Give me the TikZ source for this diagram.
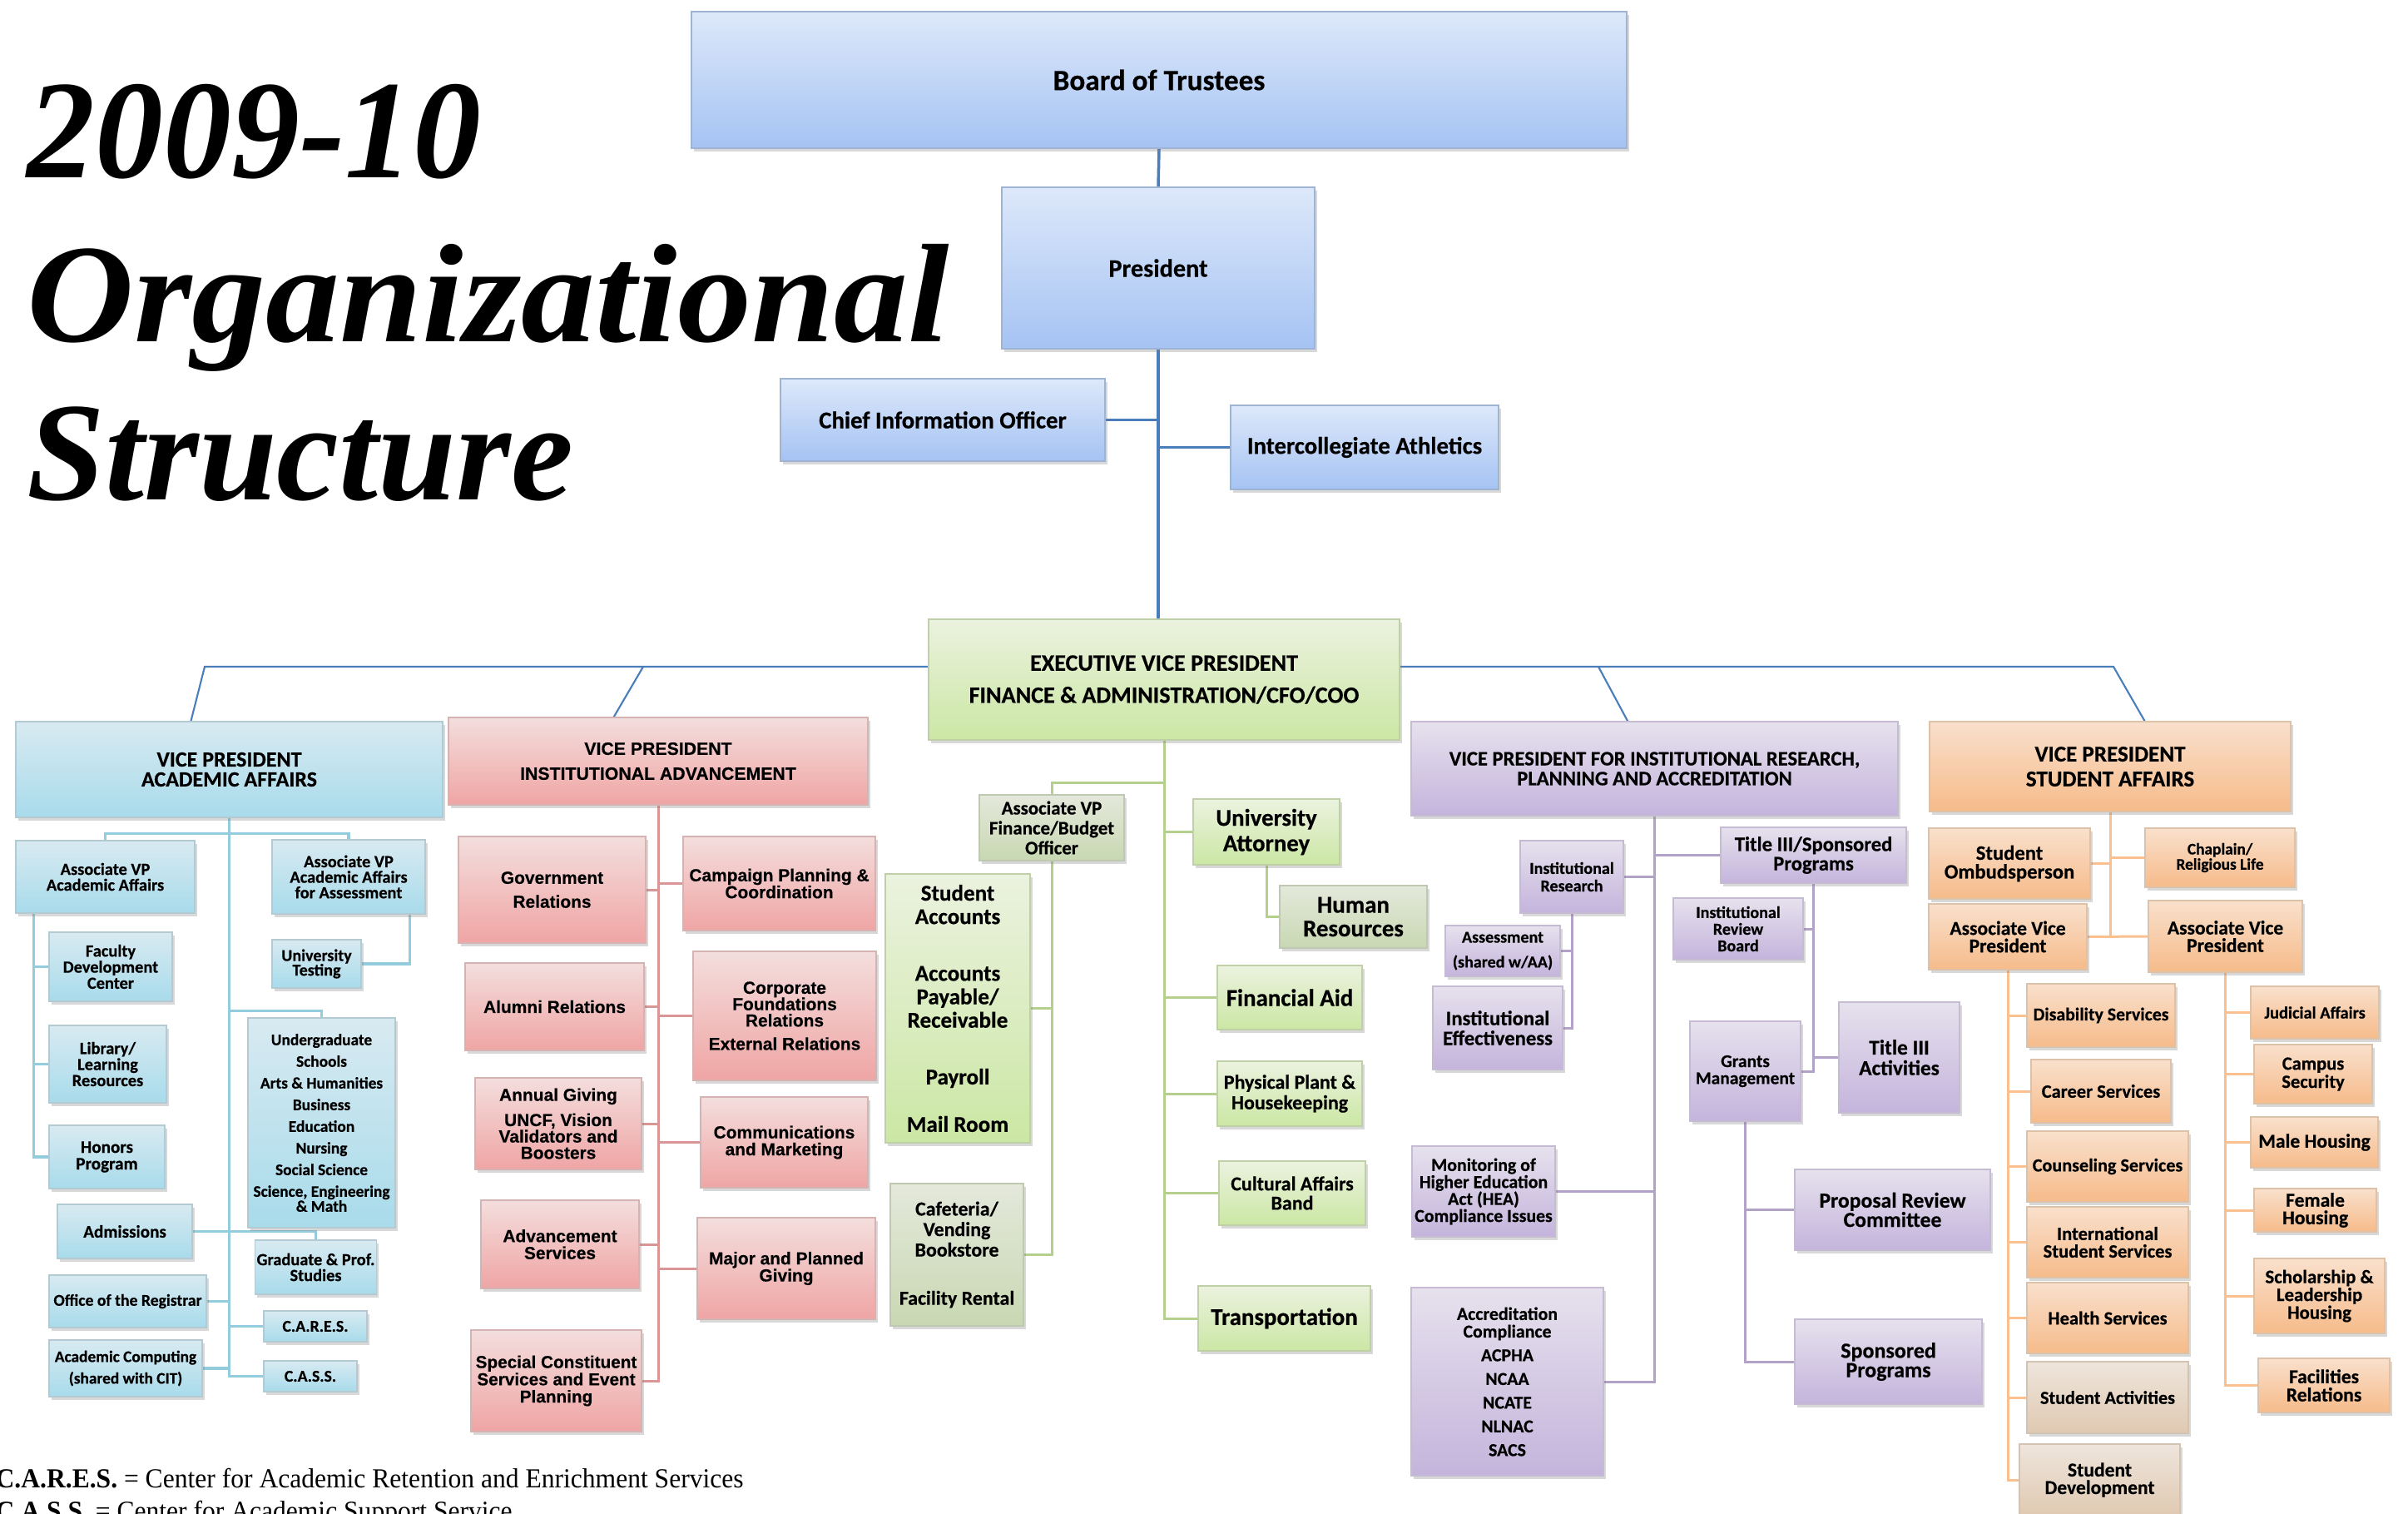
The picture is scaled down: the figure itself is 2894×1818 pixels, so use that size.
\documentclass[tikz,border=0pt]{standalone}
\usepackage{fontspec}
\setmainfont{Liberation Serif}
\newfontfamily\cb{Carlito}[BoldFeatures={FakeBold=0.5}]
\newfontfamily\ab{Liberation Sans}[BoldFeatures={FakeBold=0.4}]
\usetikzlibrary{shadows}
\pgfdeclarelayer{bg}
\pgfsetlayers{bg,main}
\definecolor{blT}{HTML}{DDE8FA}\definecolor{blB}{HTML}{A5C3F3}\definecolor{blD}{HTML}{9FB3D3}
\definecolor{cyT}{HTML}{D8EAF1}\definecolor{cyB}{HTML}{A8DBEB}\definecolor{cyD}{HTML}{B3CAD3}
\definecolor{pkT}{HTML}{F3DEDD}\definecolor{pkB}{HTML}{EFA5A4}\definecolor{pkD}{HTML}{D4B3B2}
\definecolor{grT}{HTML}{EBF2DF}\definecolor{grB}{HTML}{CBE7A4}\definecolor{grD}{HTML}{BFD0A6}
\definecolor{ggT}{HTML}{E4E8DB}\definecolor{ggB}{HTML}{C8D8B2}\definecolor{ggD}{HTML}{BFC8B0}
\definecolor{puT}{HTML}{E6E1ED}\definecolor{puB}{HTML}{C4B4DC}\definecolor{puD}{HTML}{C5BBD3}
\definecolor{orT}{HTML}{F9E0CC}\definecolor{orB}{HTML}{F6BB8A}\definecolor{orD}{HTML}{DDC2AA}
\definecolor{beT}{HTML}{EEE5DC}\definecolor{beB}{HTML}{E0C9B1}\definecolor{beD}{HTML}{D3C3B3}
\definecolor{blL}{HTML}{4A7EBB}\definecolor{acL}{HTML}{93CDDD}\definecolor{pkL}{HTML}{D99694}
\definecolor{grL}{HTML}{B4D08C}\definecolor{puL}{HTML}{B3A2C7}\definecolor{orL}{HTML}{FAC08F}
\newcommand\cf[2]{\cb\bfseries\fontsize{#1}{#2}\selectfont}
\newcommand\af[2]{\ab\bfseries\fontsize{#1}{#2}\selectfont}
\newcommand\obox[7]{\node[#6, minimum width={(#4-#2)*0.01cm}, minimum height={(#5-#3)*0.01cm}] (#1) at ({(#2+#4)/2},{(#3+#5)/2}) {#7};}
\tikzset{
 base/.style={rectangle, inner sep=0.6pt, align=center, line width=0.35pt, text=black,
   drop shadow={opacity=0.3, shadow xshift=0.025cm, shadow yshift=-0.035cm}},
 blu/.style={base, top color=blT, bottom color=blB, draw=blD},
 cyn/.style={base, top color=cyT, bottom color=cyB, draw=cyD},
 pnk/.style={base, top color=pkT, bottom color=pkB, draw=pkD},
 grn/.style={base, top color=grT, bottom color=grB, draw=grD},
 ggr/.style={base, top color=ggT, bottom color=ggB, draw=ggD},
 pur/.style={base, top color=puT, bottom color=puB, draw=puD},
 org/.style={base, top color=orT, bottom color=orB, draw=orD},
 bge/.style={base, top color=beT, bottom color=beB, draw=beD},
 cnB/.style={draw=blL, line width=1pt},
 cnb/.style={draw=blL, line width=0.6pt},
 cnA/.style={draw=acL, line width=1pt},
 cnP/.style={draw=pkL, line width=0.85pt},
 cnG/.style={draw=grL, line width=0.85pt},
 cnU/.style={draw=puL, line width=0.85pt},
 cnO/.style={draw=orL, line width=0.85pt},
 ttl/.style={anchor=base west, inner sep=0pt, font=\bfseries\itshape\fontsize{48}{48}\selectfont},
 foot/.style={anchor=base west, inner sep=0pt, font=\fontsize{9.4}{10}\selectfont}
}
\begin{document}
\begin{tikzpicture}[x={(0.01cm,0)}, y={(0,-0.01cm)}]
\useasboundingbox (0,0) rectangle (2894,1818);
% ---------- title ----------
\node[ttl] (t1) at (32,213) {\scalebox{0.97}[1]{2009-10}};
\node[ttl] (t2) at (32,410) {\scalebox{1.055}[1]{Organizational}};
\node[ttl] (t3) at (32,600) {Structure};
% ---------- top ----------
\obox{board}{831}{14}{1955}{178}{blu,font=\cf{10}{10}}{Board of Trustees}
\obox{pres}{1204}{225}{1580}{419}{blu,font=\cf{8.6}{9}}{President}
\obox{cio}{938}{455}{1328}{554}{blu,font=\cf{8.2}{8.2}}{Chief Information Officer}
\obox{ath}{1479}{487}{1801}{588}{blu,font=\cf{8.2}{8.2}}{Intercollegiate Athletics}
\obox{evp}{1116}{744}{1682}{889}{grn,font=\cf{8}{11}}{EXECUTIVE VICE PRESIDENT\\FINANCE \& ADMINISTRATION/CFO/COO}
% ---------- academic affairs ----------
\obox{vpa}{19}{867}{532}{982}{cyn,font=\cf{7.4}{6.8}}{VICE PRESIDENT\\ACADEMIC AFFAIRS}
\obox{avpa}{19}{1010}{234}{1097}{cyn,font=\cf{5.8}{5.4}}{Associate VP\\Academic Affairs}
\obox{avpas}{327}{1009}{511}{1098}{cyn,font=\cf{5.8}{5.3}}{Associate VP\\Academic Affairs\\for Assessment}
\obox{fdc}{59}{1120}{207}{1203}{cyn,font=\cf{5.8}{5.5}}{Faculty\\Development\\Center}
\obox{lib}{59}{1232}{200}{1325}{cyn,font=\cf{5.8}{5.5}}{Library/\\Learning\\Resources}
\obox{hon}{59}{1352}{198}{1428}{cyn,font=\cf{6}{5.7}}{Honors\\Program}
\obox{ut}{327}{1129}{434}{1187}{cyn,font=\cf{5.7}{5}}{University\\Testing}
\obox{ug}{298}{1223}{475}{1475}{cyn,font=\cf{5.5}{5.1}}{Undergraduate\\[2.3pt]Schools\\[2.3pt]Arts \& Humanities\\[2.3pt]Business\\[2.3pt]Education\\[2.3pt]Nursing\\[2.3pt]Social Science\\[2.3pt]Science, Engineering\\\& Math}
\obox{adm}{69}{1447}{231}{1512}{cyn,font=\cf{6}{6}}{Admissions}
\obox{grad}{308}{1490}{451}{1555}{cyn,font=\cf{5.8}{5.4}}{Graduate \& Prof.\\Studies}
\obox{reg}{59}{1532}{248}{1595}{cyn,font=\cf{5.6}{5.6}}{Office of the Registrar}
\obox{acomp}{59}{1610}{243}{1678}{cyn,font=\cf{5.5}{7.4}}{Academic Computing\\(shared with CIT)}
\obox{cares}{317}{1575}{441}{1612}{cyn,font=\cf{5.6}{5.6}}{C.A.R.E.S.}
\obox{cass}{317}{1635}{429}{1672}{cyn,font=\cf{5.6}{5.6}}{C.A.S.S.}
% ---------- institutional advancement ----------
\obox{vpadv}{539}{862}{1043}{967}{pnk,font=\af{6.05}{8.5}}{VICE PRESIDENT\\INSTITUTIONAL ADVANCEMENT}
\obox{gov}{551}{1005}{776}{1133}{pnk,font=\af{5.95}{8.2}}{Government\\Relations}
\obox{camp}{821}{1005}{1052}{1118}{pnk,font=\af{5.95}{5.8}}{Campaign Planning \&\\Coordination}
\obox{alum}{559}{1157}{774}{1262}{pnk,font=\af{5.95}{6}}{Alumni Relations}
\obox{corp}{833}{1143}{1053}{1298}{pnk,font=\af{5.95}{5.6}}{Corporate\\Foundations\\Relations\\[2.4pt]External Relations}
\obox{ann}{571}{1295}{771}{1405}{pnk,font=\af{5.95}{5.6}}{Annual Giving\\[3pt]UNCF, Vision\\Validators and\\Boosters}
\obox{comm}{842}{1318}{1043}{1427}{pnk,font=\af{5.95}{5.8}}{Communications\\and Marketing}
\obox{advs}{578}{1442}{768}{1548}{pnk,font=\af{5.95}{5.8}}{Advancement\\Services}
\obox{major}{838}{1463}{1052}{1585}{pnk,font=\af{5.95}{5.8}}{Major and Planned\\Giving}
\obox{spec}{566}{1598}{771}{1720}{pnk,font=\af{5.9}{5.9}}{Special Constituent\\Services and Event\\Planning}
% ---------- finance ----------
\obox{avpf}{1177}{955}{1351}{1034}{ggr,font=\cf{6.5}{6.8}}{Associate VP\\Finance/Budget\\Officer}
\obox{sacc}{1064}{1050}{1238}{1373}{grn,font=\cf{7.7}{8}}{Student\\Accounts\\[11.4pt]Accounts\\Payable/\\Receivable\\[11.4pt]Payroll\\[8.2pt]Mail Room}
\obox{caf}{1070}{1422}{1230}{1593}{ggr,font=\cf{6.8}{7}}{Cafeteria/\\Vending\\Bookstore\\[9.5pt]Facility Rental}
\obox{ua}{1434}{960}{1610}{1039}{grn,font=\cf{8.2}{8.7}}{University\\Attorney}
\obox{hr}{1538}{1064}{1715}{1139}{ggr,font=\cf{8.2}{8.1}}{Human\\Resources}
\obox{faid}{1463}{1160}{1637}{1237}{grn,font=\cf{8.2}{8.2}}{Financial Aid}
\obox{phys}{1463}{1275}{1637}{1353}{grn,font=\cf{6.8}{7}}{Physical Plant \&\\Housekeeping}
\obox{cult}{1465}{1395}{1641}{1472}{grn,font=\cf{6.8}{6.6}}{Cultural Affairs\\Band}
\obox{trans}{1440}{1545}{1647}{1623}{grn,font=\cf{8.2}{8.2}}{Transportation}
% ---------- research ----------
\obox{vpr}{1696}{867}{2281}{980}{pur,font=\cf{7}{6.8}}{VICE PRESIDENT FOR INSTITUTIONAL RESEARCH,\\PLANNING AND ACCREDITATION}
\obox{ir}{1827}{1010}{1951}{1097}{pur,font=\cf{5.7}{6}}{Institutional\\Research}
\obox{asmt}{1737}{1112}{1875}{1173}{pur,font=\cf{5.7}{8.5}}{Assessment\\(shared w/AA)}
\obox{ie}{1722}{1185}{1878}{1285}{pur,font=\cf{7}{6.8}}{Institutional\\Effectiveness}
\obox{t3s}{2068}{994}{2291}{1061}{pur,font=\cf{7}{6.6}}{Title III/Sponsored\\Programs}
\obox{irb}{2011}{1079}{2167}{1153}{pur,font=\cf{5.7}{5.7}}{Institutional\\Review\\Board}
\obox{t3a}{2210}{1204}{2355}{1337}{pur,font=\cf{7.2}{7}}{Title III\\Activities}
\obox{gm}{2031}{1227}{2164}{1347}{pur,font=\cf{6.1}{5.8}}{Grants\\Management}
\obox{prc}{2157}{1405}{2392}{1502}{pur,font=\cf{7.3}{6.6}}{Proposal Review\\Committee}
\obox{sp}{2157}{1585}{2382}{1687}{pur,font=\cf{7.4}{6.6}}{Sponsored\\Programs}
\obox{mon}{1697}{1377}{1869}{1486}{pur,font=\cf{6.2}{5.8}}{Monitoring of\\Higher Education\\Act (HEA)\\Compliance Issues}
\obox{accr}{1696}{1547}{1927}{1773}{pur,font=\cf{6.2}{6}}{Accreditation\\Compliance\\[2.1pt]ACPHA\\[2.1pt]NCAA\\[2.1pt]NCATE\\[2.1pt]NLNAC\\[2.1pt]SACS}
% ---------- student affairs ----------
\obox{vps}{2319}{867}{2753}{975}{org,font=\cf{7.7}{8.5}}{VICE PRESIDENT\\STUDENT AFFAIRS}
\obox{omb}{2318}{995}{2512}{1080}{org,font=\cf{7}{6.4}}{Student\\Ombudsperson}
\obox{chap}{2578}{995}{2758}{1066}{org,font=\cf{5.5}{5.2}}{Chaplain/\\Religious Life}
\obox{avpl}{2318}{1086}{2508}{1165}{org,font=\cf{6.7}{6}}{Associate Vice\\President}
\obox{avpr}{2582}{1082}{2767}{1168}{org,font=\cf{6.7}{6}}{Associate Vice\\President}
\obox{dis}{2436}{1182}{2614}{1258}{org,font=\cf{6.2}{6.2}}{Disability Services}
\obox{car}{2441}{1273}{2609}{1349}{org,font=\cf{6.4}{6.4}}{Career Services}
\obox{cou}{2436}{1359}{2630}{1444}{org,font=\cf{6.3}{6.3}}{Counseling Services}
\obox{intl}{2436}{1450}{2630}{1535}{org,font=\cf{6.4}{6}}{International\\Student Services}
\obox{hea}{2436}{1541}{2630}{1626}{org,font=\cf{6.4}{6.4}}{Health Services}
\obox{act}{2436}{1636}{2630}{1722}{bge,font=\cf{6.3}{6.3}}{Student Activities}
\obox{sdev}{2427}{1735}{2620}{1821}{bge,font=\cf{6.7}{6}}{Student\\Development}
\obox{jud}{2705}{1185}{2859}{1248}{org,font=\cf{5.8}{6}}{Judicial Affairs}
\obox{cam}{2709}{1255}{2851}{1326}{org,font=\cf{6.4}{6.2}}{Campus\\Security}
\obox{male}{2705}{1342}{2858}{1403}{org,font=\cf{6.7}{6.7}}{Male Housing}
\obox{fem}{2709}{1428}{2856}{1480}{org,font=\cf{6.7}{6}}{Female\\Housing}
\obox{sch}{2709}{1512}{2866}{1602}{org,font=\cf{6.5}{6.1}}{Scholarship \&\\Leadership\\Housing}
\obox{fac}{2714}{1632}{2872}{1697}{org,font=\cf{6.7}{6.2}}{Facilities\\Relations}
% ---------- footer ----------
\node[foot] (f1) at (-6,1787) {\scalebox{0.955}[1]{\textbf{C.A.R.E.S.} = Center for Academic Retention and Enrichment Services}};
\node[foot] (f2) at (-6,1826) {\scalebox{0.955}[1]{\textbf{C.A.S.S.} = Center for Academic Support Service}};
% ---------- connectors ----------
\begin{pgfonlayer}{bg}
\fill[white] (0,0) rectangle (2894,1818);
\coordinate (barL) at (246,801);
\coordinate (barA) at (773,801);
\coordinate (barRes) at (1921,801);
\coordinate (barR) at (2540,801);
\coordinate (ja) at ([shift={(207,16)}]vpa.north west);
\coordinate (jadv) at ([shift={(187,21)}]vpadv.north west);
\coordinate (jres) at ([shift={(271,19)}]vpr.north west);
\coordinate (js) at ([shift={(269,17)}]vps.north west);
\draw[cnB] (board.south) -- (pres.north);
\draw[cnB] (pres.south) -- (pres.south |- evp.north);
\draw[cnB] (cio.east) -- (cio.east -| pres.south);
\draw[cnB] (ath.west) -- (ath.west -| pres.south);
\draw[cnb] (ja) -- (barL) -- (barR) -- (js);
\draw[cnb] (jadv) -- (barA);
\draw[cnb] (jres) -- (barRes);
% academic
\draw[cnA] (vpa.south) |- (cass.west);
\draw[cnA] (avpa.north) -- ++(0,-8) -| (avpas.north);
\coordinate (al) at ([shift={(22,0)}]avpa.south west);
\draw[cnA] (al) |- (hon.west);
\draw[cnA] (fdc.west) -- (fdc.west -| al);
\draw[cnA] (lib.west) -- (lib.west -| al);
\draw[cnA] ([shift={(-19,0)}]avpas.south east) |- (ut.east);
\draw[cnA] (ug.north) -- ++(0,-8) coordinate (ugk) -- (ugk -| vpa.south);
\draw[cnA] (adm.east) -| (grad.north);
\draw[cnA] (reg.east) -- (reg.east -| vpa.south);
\draw[cnA] (acomp.east) -- (acomp.east -| vpa.south);
\draw[cnA] (cares.west) -- (cares.west -| vpa.south);
% advancement
\draw[cnP] (vpadv.south) |- (spec.east);
\foreach \n in {gov,alum,ann,advs} \draw[cnP] (\n.east) -- (\n.east -| vpadv.south);
\foreach \n in {camp,corp,comm,major} \draw[cnP] (\n.west) -- (\n.west -| vpadv.south);
% finance
\draw[cnG] (evp.south) |- (trans.west);
\draw[cnG] (avpf.north) -- ++(0,-14) coordinate (fk) -- (fk -| evp.south);
\draw[cnG] (avpf.south) |- (caf.east);
\draw[cnG] (sacc.east) -- (sacc.east -| avpf.south);
\draw[cnG] (ua.south) |- (hr.west);
\foreach \n in {ua,faid,phys,cult} \draw[cnG] (\n.west) -- (\n.west -| evp.south);
% research
\draw[cnU] (vpr.south) |- (accr.east);
\draw[cnU] (ir.east) -- (ir.east -| vpr.south);
\draw[cnU] (mon.east) -- (mon.east -| vpr.south);
\draw[cnU] (t3s.west) -- (t3s.west -| vpr.south);
\draw[cnU] (ir.south) |- (ie.east);
\draw[cnU] (asmt.east) -- (asmt.east -| ir.south);
\draw[cnU] (t3s.south) |- (gm.east);
\draw[cnU] (irb.east) -- (irb.east -| t3s.south);
\draw[cnU] (t3a.west) -- (t3a.west -| t3s.south);
\draw[cnU] (gm.south) |- (sp.west);
\draw[cnU] (prc.west) -- (prc.west -| gm.south);
% student affairs
\draw[cnO] (vps.south) -- (vps.south |- avpl.east);
\draw[cnO] (avpl.east) -- (avpr.west);
\draw[cnO] (omb.east) -- (omb.east -| vps.south);
\draw[cnO] (chap.west) -- (chap.west -| vps.south);
\draw[cnO] (avpl.south) |- (sdev.west);
\foreach \n in {dis,car,cou,intl,hea,act} \draw[cnO] (\n.west) -- (\n.west -| avpl.south);
\draw[cnO] (avpr.south) |- (fac.west);
\foreach \n in {jud,cam,male,fem,sch} \draw[cnO] (\n.west) -- (\n.west -| avpr.south);
\end{pgfonlayer}
\end{tikzpicture}
\end{document}
